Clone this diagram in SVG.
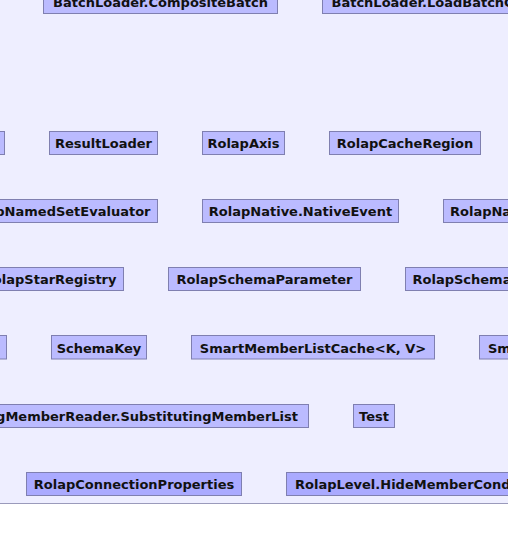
<svg xmlns="http://www.w3.org/2000/svg" width="508" height="539" viewBox="0 0 508 539">
<style>
.bg{fill:#eeeeff}
.n rect{fill:#bbbbff;stroke:#7f7fb0;stroke-width:1}
.n.d rect{fill:#aaaaff}
.n text{font-family:"DejaVu Sans",sans-serif;font-weight:bold;font-size:13px;fill:#111111}
.c{text-anchor:middle}
.s{text-anchor:start}
.e{text-anchor:end}
</style>
<rect x="0" y="0" width="508" height="539" fill="#ffffff"/>
<rect class="bg" x="0" y="0" width="508" height="503"/>
<line x1="0" y1="503.5" x2="508" y2="503.5" stroke="#9a9abb" stroke-width="1"/>
<g id="connectors"/>
<g id="n-compositebatch" class="n"><rect x="43.5" y="-9.5" width="234" height="23"/><text class="c" x="160.5" y="6.7">BatchLoader.CompositeBatch</text></g>
<g id="n-loadbatch" class="n"><rect x="322.5" y="-9.5" width="260" height="23"/><text class="s" x="331.5" y="6.7">BatchLoader.LoadBatchCommand</text></g>
<g id="n-r2left" class="n"><rect x="-60.5" y="131.5" width="65" height="23"/></g>
<g id="n-resultloader" class="n"><rect x="49.5" y="131.5" width="108" height="23"/><text class="c" x="103.5" y="148">ResultLoader</text></g>
<g id="n-rolapaxis" class="n"><rect x="202.5" y="131.5" width="82" height="23"/><text class="c" x="243.5" y="148">RolapAxis</text></g>
<g id="n-rolapcacheregion" class="n"><rect x="329.5" y="131.5" width="151" height="23"/><text class="c" x="405" y="148">RolapCacheRegion</text></g>
<g id="n-namedseteval" class="n"><rect x="-60.5" y="199.5" width="218" height="23"/><text class="e" x="150.5" y="216">RolapNamedSetEvaluator</text></g>
<g id="n-nativeevent" class="n"><rect x="202.5" y="199.5" width="196" height="23"/><text class="c" x="300.5" y="216">RolapNative.NativeEvent</text></g>
<g id="n-tupleevent" class="n"><rect x="443.5" y="199.5" width="190" height="23"/><text class="s" x="450" y="216">RolapNative.TupleEvent</text></g>
<g id="n-starregistry" class="n"><rect x="-40.5" y="267.5" width="164" height="23"/><text class="e" x="116.5" y="284">RolapStarRegistry</text></g>
<g id="n-schemaparameter" class="n"><rect x="168.5" y="267.5" width="192" height="23"/><text class="c" x="264.5" y="284">RolapSchemaParameter</text></g>
<g id="n-schemareader" class="n"><rect x="405.5" y="267.5" width="170" height="23"/><text class="s" x="412.5" y="284">RolapSchemaReader</text></g>
<g id="n-r5left" class="n"><rect x="-60.5" y="335.5" width="67" height="23.5"/></g>
<g id="n-schemakey" class="n"><rect x="51.5" y="335.5" width="95" height="23.5"/><text class="c" x="99" y="352.5">SchemaKey</text></g>
<g id="n-smartcache" class="n"><rect x="191.5" y="335.5" width="243" height="23.5"/><text class="c" x="313" y="352.5">SmartMemberListCache&lt;K, V&gt;</text></g>
<g id="n-smartreader" class="n"><rect x="479.5" y="335.5" width="160" height="23.5"/><text class="s" x="488" y="352.5">SmartMemberReader</text></g>
<g id="n-substlist" class="n"><rect x="-100.5" y="404.5" width="409" height="23"/><text class="e" x="298" y="421">SubstitutingMemberReader.SubstitutingMemberList</text></g>
<g id="n-test" class="n"><rect x="353.5" y="404.5" width="41" height="23"/><text class="c" x="374" y="421">Test</text></g>
<g id="n-connprops" class="n d"><rect x="26.5" y="472.5" width="215" height="23"/><text class="c" x="134" y="489">RolapConnectionProperties</text></g>
<g id="n-hidemember" class="n d"><rect x="286.5" y="472.5" width="260" height="23"/><text class="s" x="295" y="489">RolapLevel.HideMemberCondition</text></g>
</svg>
